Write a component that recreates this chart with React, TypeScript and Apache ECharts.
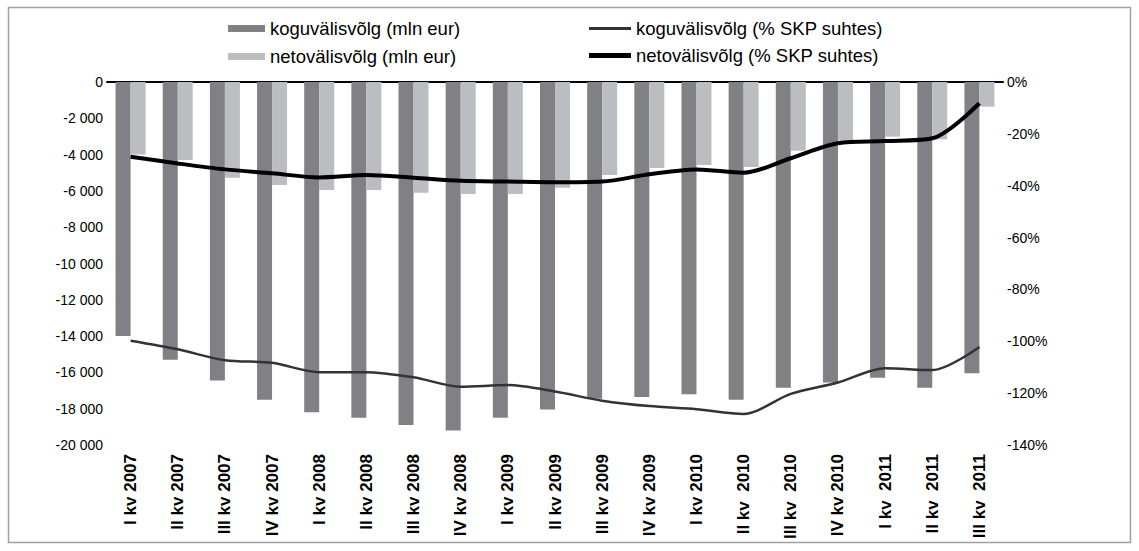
import React, { useEffect, useRef } from "react";
import * as echarts from "echarts";

const categories = [
  "I kv 2007", "II kv 2007", "III kv 2007", "IV kv 2007",
  "I kv 2008", "II kv 2008", "III kv 2008", "IV kv 2008",
  "I kv 2009", "II kv 2009", "III kv 2009", "IV kv 2009",
  "I kv 2010", "II kv  2010", "III kv  2010", "IV kv 2010",
  "I kv  2011", "II kv  2011", "III kv  2011",
];

// mln eur
const koguMln = [
  -14000, -15300, -16450, -17500, -18200, -18500, -18900, -19200, -18500,
  -18050, -17450, -17350, -17200, -17500, -16850, -16550, -16300, -16850, -16050,
];
const netoMln = [
  -4000, -4300, -5270, -5670, -5950, -5950, -6100, -6170, -6170,
  -5820, -5120, -4740, -4570, -4680, -3790, -3230, -3010, -3160, -1360,
];

// % SKP suhtes
const koguPct = [
  -99.8, -103.1, -107.3, -108.3, -111.9, -111.9, -113.9, -117.5, -116.9,
  -119.4, -122.9, -125.0, -126.2, -128.0, -120.3, -115.9, -110.4, -111.1, -102.2,
];
const netoPct = [
  -28.8, -31.4, -33.7, -35.2, -36.8, -35.9, -36.9, -38.1, -38.4,
  -38.7, -38.4, -35.6, -33.7, -35.0, -29.4, -23.6, -22.8, -21.7, -8.2,
];

const leftTicks = { min: -20000, max: 0, interval: 2000 };
const rightTicks = { min: -140, max: 0, interval: 20 };

const FONT = "Liberation Sans";

function fmtThousands(v: number): string {
  if (v === 0) return "0";
  const s = Math.abs(v).toString().replace(/\B(?=(\d{3})+(?!\d))/g, " ");
  return (v < 0 ? "-" : "") + s;
}

export default function App() {
  const ref = useRef<HTMLDivElement>(null);

  useEffect(() => {
    if (!ref.current) return;
    const chart = echarts.init(ref.current, null, { renderer: "svg" });
    const names = [
      "koguvälisvõlg (mln eur)",
      "netovälisvõlg (mln eur)",
      "koguvälisvõlg (% SKP suhtes)",
      "netovälisvõlg (% SKP suhtes)",
    ];
    const legendText = { fontFamily: FONT, fontSize: 18.5, color: "#000", lineHeight: 18 };
    chart.setOption({
      animation: false,
      backgroundColor: "#ffffff",
      textStyle: { fontFamily: FONT },
      graphic: [
        {
          type: "rect",
          silent: true,
          shape: { x: 8.5, y: 7.5, width: 1122, height: 535 },
          style: { fill: "none", stroke: "#a0a0a0", lineWidth: 1.5 },
        },
      ],
      legend: [
        {
          data: [names[0], names[1]],
          orient: "vertical",
          left: 223,
          top: 14,
          itemWidth: 37,
          itemHeight: 7,
          itemGap: 9,
          icon: "rect",
          textStyle: legendText,
        },
        {
          data: [names[2]],
          left: 584,
          top: 14,
          itemWidth: 42,
          itemHeight: 3,
          icon: "rect",
          textStyle: legendText,
        },
        {
          data: [names[3]],
          left: 584,
          top: 41,
          itemWidth: 42,
          itemHeight: 5,
          icon: "rect",
          textStyle: legendText,
        },
      ],
      grid: { left: 107, right: 136, top: 82, bottom: 106, containLabel: false },
      xAxis: [
        {
          type: "category",
          data: categories,
          position: "bottom",
          axisLine: { show: false },
          axisTick: { show: false },
          axisLabel: {
            interval: 0,
            rotate: 90,
            margin: 9,
            fontFamily: FONT,
            fontSize: 17,
            fontWeight: "bold",
            color: "#000",
          },
        },
        {
          type: "category",
          data: categories,
          position: "top",
          axisLine: { show: true, onZero: false, lineStyle: { color: "#000", width: 2 } },
          axisTick: { show: false },
          axisLabel: { show: false },
        },
      ],
      yAxis: [
        {
          type: "value",
          ...leftTicks,
          position: "left",
          axisLine: { show: false },
          axisTick: { show: false },
          splitLine: { show: false },
          axisLabel: {
            margin: 4,
            fontFamily: FONT,
            fontSize: 14,
            color: "#000",
            padding: [6, 0, 0, 0],
            formatter: (v: number) => fmtThousands(v),
          },
        },
        {
          type: "value",
          ...rightTicks,
          position: "right",
          axisLine: { show: false },
          axisTick: { show: false },
          splitLine: { show: false },
          axisLabel: {
            margin: 4,
            fontFamily: FONT,
            fontSize: 14,
            color: "#000",
            padding: [6, 0, 0, 0],
            formatter: (v: number) => v + "%",
          },
        },
      ],
      series: [
        {
          name: names[0],
          type: "bar",
          data: koguMln,
          barWidth: 15,
          barGap: "0%",
          itemStyle: { color: "#808085" },
        },
        {
          name: names[1],
          type: "bar",
          data: netoMln,
          barWidth: 15,
          barGap: "0%",
          itemStyle: { color: "#bcbdc1" },
        },
        {
          name: names[2],
          type: "line",
          yAxisIndex: 1,
          data: koguPct,
          symbol: "none",
          smooth: 0.3,
          lineStyle: { color: "#333333", width: 2.5 },
          itemStyle: { color: "#333333" },
          z: 3,
        },
        {
          name: names[3],
          type: "line",
          yAxisIndex: 1,
          data: netoPct,
          symbol: "none",
          smooth: 0.3,
          lineStyle: { color: "#000000", width: 4 },
          itemStyle: { color: "#000000" },
          z: 4,
        },
      ],
    });
    return () => chart.dispose();
  }, []);

  return (
    <div
      ref={ref}
      style={{ position: "fixed", left: 0, top: 0, width: 1139, height: 551 }}
    />
  );
}
